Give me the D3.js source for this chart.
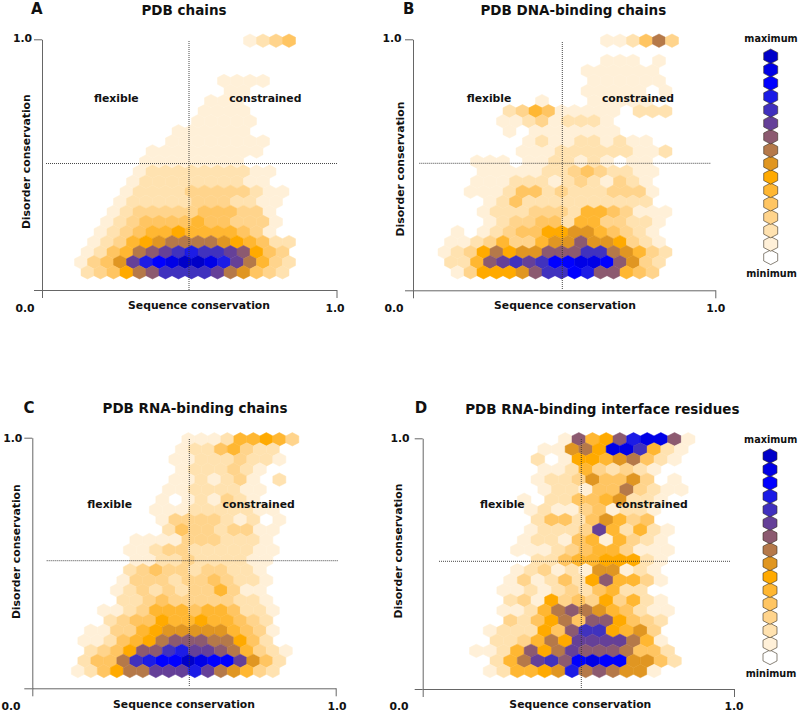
<!DOCTYPE html>
<html>
<head>
<meta charset="utf-8">
<script src="https://cdn.jsdelivr.net/npm/d3@7"></script>
<style>
html,body{margin:0;padding:0;background:#fff}
svg{display:block}
text{font-family:"DejaVu Sans",sans-serif;font-weight:bold;fill:#111}
</style>
</head>
<body>
<svg id="chart" width="800" height="713"></svg>
<script>
// Colour level of every hexagon: one string per row (top to bottom), one char per cell,
// '.' = no hexagon, 0-9a-f = legend level from minimum to maximum.
const hexA = [
".............1234","","","",
"...........1111","...........11","..........111",".........1111",".........11111",
".......111111",".......11111111",".....111111111",".....11111111",
"....12222222211","....12222222211","...1222233333211","...1222223332211",
"..1233333444331","..12344445443331",".12345565555431",
".1235678888765422","124589abcbba9643","1347acdeffeca8532","234689bbbba87432"
];
const hexB = [
".............112483","",".............111.1","...........111111",
"............111111","...........11111.1","........1...11111",".....235411111.222",
".....112312221",".....1.1111111",".......1211221211","......111222222112",
"...111.1122121.11","...11111223432211","...11122212321321","..111244232223331",
"....1242222222222","...122233325543111","....12334425533221",".1.12344667754321",
".11235335779776321","12368677999bb87532",".2259ababddeed9732",".1366679bbdc99543"
];
const hexC = [
".........111255653","........12245322","........112223221","........1222321",
"........1121231.2",".......11222211",".......1.121321","......1112222211",
".......13333212.1",".......243323311",".....11113332221","....112332222211",
".....11223222211","....23433233221","....133323343221","...123232335311",
"....223433333221","..11235554554221","...2344655655432",".113356777775431",
".112456899988642",".234699bcaa985321",".2448bcddfedda742","124688aaaca87532"
];
const hexD = [
".......19569cee91",".....11786eeb521",".....2.166578421",".....112532321",
".....122374473.1",".....12214483211","....1.224457221","....1211341221",
".....244247534","....12223a52521","....12214515321","...111234553111",
".....2245566621","...12312177121","...131242695531","..11212324522",
"...231634363521","..1125898754211","...324684996432",".1222649bb6573",
"..223586aaaa851","1125968a9998442","..258ab9dedd7742",".125567c898771"
];
const levelColors = ["#ffffff","#fff0d8","#ffe2b0","#ffd48c","#ffc562","#ffb732","#ffaa00",
  "#e09620","#b5794a","#8c5a70","#654098","#4030be","#1a1ae6","#0000ff","#0000e6","#0000c8"];
const axisTicks = [0, 1];
const tickLabels = ["0.0", "1.0"];
const panelLetters = ["A", "B", "C", "D"];
const panelTitles = ["PDB chains", "PDB DNA-binding chains", "PDB RNA-binding chains", "PDB RNA-binding interface residues"];
const xTitle = "Sequence conservation";
const yTitle = "Disorder conservation";
const quadrantLabels = ["flexible", "constrained"];
const legendLabels = ["maximum", "minimum"];

// Layout only
const panels = [
 {hex:hexA,x0:81,w:13,yT:40.7,yB:272.3,ax:[42,336.5],ay:[39.3,290],v:189,vy:[41,290],h:163.5,hx:[46,338],
  letter:[36.7,14.2],title:[184,14.5],top:[22.5,42],zero:[25,312],one:[335,312],xl:[199,309],yl:[26.7,161.7],fl:[116.3,102],co:[265.3,102]},
 {hex:hexB,x0:438,w:13,yT:40.7,yB:272.3,ax:[413,715.3],ay:[39.3,290.3],v:562.3,vy:[42,290],h:163.3,hx:[419.3,710.7],
  letter:[408.7,14.2],title:[573.3,14.5],top:[392,42],zero:[394,312],one:[715.7,312],xl:[565,309],yl:[400,169],fl:[489,102],co:[638,102]},
 {hex:hexC,x0:71.33,w:13,yT:439.3,yB:671,ax:[32.3,335.7],ay:[437.7,688.3],v:189.3,vy:[439,687],h:560.7,hx:[46.7,337.7],
  letter:[29,412.7],title:[195,412.7],top:[12.7,442],zero:[11,710],one:[337,710],xl:[184,707.7],yl:[16,551.7],fl:[109.7,508],co:[258.7,508]},
 {hex:hexD,x0:469.5,w:13.667,yT:439.3,yB:671,ax:[422.7,734],ay:[438.3,689],v:581.3,vy:[439,688],h:561.3,hx:[439,730],
  letter:[421,412.7],title:[602.3,414.3],top:[400,442.3],zero:[399,710],one:[734,710],xl:[580.3,707.7],yl:[398.7,551],fl:[502.3,508.3],co:[651.7,508.3]}
];
const legends = [
 {x:770.7,yTop:56.3,yBot:257.3,max:[771,42],min:[771.5,277.3]},
 {x:770,yTop:456,yBot:657.3,max:[770.7,442.7],min:[771,676.7]}
];

const svg = d3.select("#chart");
const defs = svg.append("defs");
defs.append("filter").attr("id","soft").attr("x","-5%").attr("y","-5%").attr("width","110%").attr("height","110%")
  .append("feGaussianBlur").attr("stdDeviation",0.45);
const hexPath = (hw, r) => d3.line()([[0,-r],[hw,-r/2],[hw,r/2],[0,r],[-hw,r/2],[-hw,-r/2]]) + "Z";
const label = (g, pos, txt, size, rotate) => {
  const t = g.append("text").text(txt).attr("text-anchor","middle").attr("font-size",size);
  if (rotate) t.attr("transform",`translate(${pos[0]},${pos[1]}) rotate(-90)`).attr("dy","0.35em");
  else t.attr("x",pos[0]).attr("y",pos[1]);
};

panels.forEach((p,i) => {
  const g = svg.append("g");
  const xCell = d3.scaleLinear().domain([0,1]).range([p.x0,p.x0+p.w]);
  const yRow = d3.scaleLinear().domain([0,p.hex.length-1]).range([p.yT,p.yB]);
  const step = yRow(1)-yRow(0);
  const cells = [];
  p.hex.forEach((row,r) => row.split("").forEach((c,n) => {
    if (c !== ".") cells.push({r, n: n + (r%2 ? 0.5 : 0), level: parseInt(c,16)});
  }));
  g.append("g").attr("filter","url(#soft)")
    .selectAll("path.hex").data(cells).join("path").attr("class","hex")
    .attr("d", hexPath(p.w/2, step/1.5))
    .attr("transform", d => `translate(${xCell(d.n)},${yRow(d.r)})`)
    .attr("fill", d => levelColors[d.level])
    .attr("stroke", d => levelColors[d.level]).attr("stroke-width",0.5);

  const xA = d3.scaleLinear().domain([0,1]).range(p.ax);
  const yA = d3.scaleLinear().domain([0,1]).range([p.ay[1],p.ay[0]]);
  const ax = g.append("g").attr("transform",`translate(0,${p.ay[1]})`)
    .call(d3.axisBottom(xA).tickValues(axisTicks).tickFormat("").tickSize(8).tickSizeOuter(0));
  const ay = g.append("g").attr("transform",`translate(${p.ax[0]},0)`)
    .call(d3.axisLeft(yA).tickValues(axisTicks).tickFormat("").tickSize(8).tickSizeOuter(0));
  [ax,ay].forEach(a => a.selectAll("path,line").attr("stroke","#666").attr("stroke-width",1));

  g.append("line").attr("x1",p.v).attr("x2",p.v).attr("y1",p.vy[0]).attr("y2",p.vy[1])
    .attr("stroke","#333").attr("stroke-width",0.9).attr("stroke-dasharray","1,1");
  g.append("line").attr("x1",p.hx[0]).attr("x2",p.hx[1]).attr("y1",p.h).attr("y2",p.h)
    .attr("stroke","#333").attr("stroke-width",0.9).attr("stroke-dasharray","1,1");

  label(g,p.letter,panelLetters[i],15);
  label(g,p.title,panelTitles[i],13.5);
  label(g,p.top,tickLabels[1],10.8);
  label(g,p.zero,tickLabels[0],10.8);
  label(g,p.one,tickLabels[1],10.8);
  label(g,p.xl,xTitle,10.8);
  label(g,p.yl,yTitle,10.8,true);
  label(g,p.fl,quadrantLabels[0],10.8);
  label(g,p.co,quadrantLabels[1],10.8);
});

legends.forEach(l => {
  const g = svg.append("g");
  const y = d3.scaleLinear().domain([levelColors.length-1,0]).range([l.yTop,l.yBot]);
  g.selectAll("path").data(levelColors).join("path")
    .attr("d", hexPath(7,7.3))
    .attr("transform",(d,i)=>`translate(${l.x},${y(i)})`)
    .attr("fill",d=>d).attr("stroke","#3a3020").attr("stroke-width",0.6);
  label(g,l.max,legendLabels[0],9.7);
  label(g,l.min,legendLabels[1],9.7);
});
</script>
</body>
</html>
